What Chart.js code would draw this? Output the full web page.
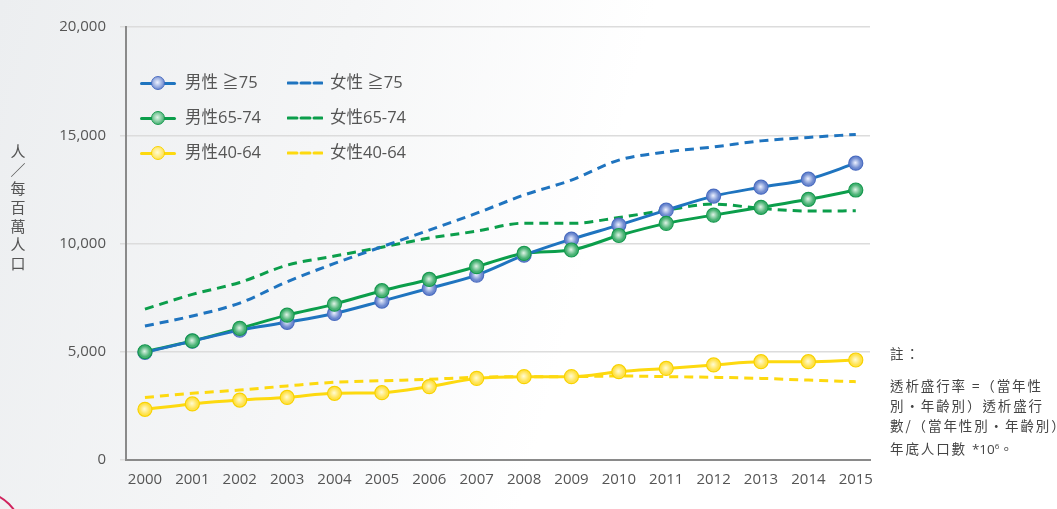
<!DOCTYPE html>
<html>
<head>
<meta charset="utf-8">
<script src="https://cdn.jsdelivr.net/npm/chart.js@4"></script>
<style>
  html, body { margin: 0; padding: 0; }
  body {
    width: 1057px; height: 509px; overflow: hidden; position: relative;
    background: linear-gradient(105deg, #eceef0 0%, #f5f6f7 30%, #ffffff 55%, #ffffff 100%);
    font-family: "Open Sans", "Noto Sans CJK TC", sans-serif;
    color: #555;
  }
  #wrap { position: absolute; left: 0; top: 0; width: 1057px; height: 509px; }
  .ytitle { position: absolute; left: 8px; top: 142px; width: 20px; font-size: 15px; color: #555;
            font-family: "Noto Sans CJK TC", sans-serif; text-align: center; }
  .ytitle span { display: block; height: 18.7px; line-height: 18.7px; }
  .legend { position: absolute; font-size: 16.5px; color: #555; font-family: "Open Sans", "Noto Sans CJK TC", sans-serif; }
  .legend .item { position: absolute; height: 20px; white-space: nowrap; }
  .legend .txt { position: absolute; top: -3px; line-height: 24px; }
  .mk { position: absolute; width: 14px; height: 14px; border-radius: 50%; top: 3px; left: 11px; box-sizing: border-box; }
  .note { position: absolute; left: 890px; top: 343px; width: 167px; overflow: hidden; font-size: 13.5px; color: #444;
          font-family: "Noto Sans CJK TC", sans-serif; white-space: nowrap; letter-spacing: 1.9px; line-height: 20px; }
  .note .n { letter-spacing: 0; font-family: "Open Sans", sans-serif; }
  .arc { position: absolute; left: -62px; top: 491px; width: 84px; height: 84px; border-radius: 50%;
         border: 2px solid #d0245e; box-sizing: border-box; }
</style>
</head>
<body>
<div id="wrap"><canvas id="chart" width="1057" height="509"></canvas></div>
<div class="ytitle"><span>人</span><span>／</span><span>每</span><span>百</span><span>萬</span><span>人</span><span>口</span></div>
<div class="legend" id="legend"></div>
<div class="note">註：<div style="height:12px"></div>透析盛行率 =（當年性<br>別‧年齡別）透析盛行<br>數/（當年性別‧年齡別）<br>年底人口數 <span class="n">*10<sup style="font-size:8px">6</sup></span>。</div>
<div class="arc"></div>
<script>
// data
const years = [2000, 2001, 2002, 2003, 2004, 2005, 2006, 2007, 2008, 2009, 2010, 2011, 2012, 2013, 2014, 2015];
const seriesNames = ['男性 ≧75', '女性 ≧75', '男性65-74', '女性65-74', '男性40-64', '女性40-64'];
const maleOver75 = [4970, 5490, 6000, 6360, 6770, 7340, 7930, 8540, 9460, 10200, 10850, 11540, 12190, 12600, 12970, 13710];
const femaleOver75 = [6190, 6650, 7250, 8230, 9080, 9850, 10620, 11400, 12240, 12930, 13850, 14230, 14460, 14740, 14900, 15040];
const male6574 = [5000, 5500, 6080, 6690, 7200, 7820, 8340, 8930, 9540, 9700, 10370, 10930, 11310, 11670, 12040, 12470];
const female6574 = [6970, 7650, 8200, 9000, 9420, 9830, 10250, 10570, 10940, 10930, 11200, 11540, 11820, 11620, 11500, 11510];
const male4064 = [2340, 2590, 2770, 2890, 3080, 3110, 3390, 3770, 3850, 3850, 4080, 4230, 4390, 4540, 4540, 4620];
const female4064 = [2890, 3080, 3230, 3420, 3590, 3660, 3730, 3820, 3850, 3850, 3880, 3850, 3820, 3770, 3690, 3620];
const yTicks = [0, 5000, 10000, 15000, 20000];

const blue = '#1f74bf', green = '#0b9e4b', yellow = '#fdd90f';
// marker colours: [center, outer, ring]
const markerCols = {
  blue: ['#eef2ff', '#6d89cf', '#4a6cc0'],
  green: ['#e0f3e7', '#46b172', '#17994f'],
  yellow: ['#fffbd6', '#ffe24d', '#f8d200']
};

function pts(arr) {
  return arr.map(function (v, i) { return { x: years[i], y: v }; });
}

function lineSet(label, arr, color, dashed, marker) {
  return {
    label: label,
    data: pts(arr),
    borderColor: color,
    borderWidth: 3,
    borderDash: dashed ? [9, 6] : [],
    pointRadius: 0,
    fill: false,
    cubicInterpolationMode: 'monotone',
    marker: marker
  };
}

// draw the round shaded markers on the solid lines
const markerPlugin = {
  id: 'markers',
  afterDatasetsDraw(chart) {
    const ctx = chart.ctx;
    chart.data.datasets.forEach(function (ds, di) {
      if (!ds.marker) return;
      const c = markerCols[ds.marker];
      chart.getDatasetMeta(di).data.forEach(function (el) {
        const g = ctx.createRadialGradient(el.x - 0.5, el.y - 0.5, 0, el.x, el.y, 7);
        g.addColorStop(0, c[0]);
        g.addColorStop(0.75, c[1]);
        g.addColorStop(1, c[1]);
        ctx.save();
        ctx.beginPath();
        ctx.arc(el.x, el.y, 7, 0, Math.PI * 2);
        ctx.fillStyle = g;
        ctx.fill();
        ctx.lineWidth = 1.2;
        ctx.strokeStyle = c[2];
        ctx.stroke();
        ctx.restore();
      });
    });
  }
};

new Chart(document.getElementById('chart'), {
  type: 'line',
  data: {
    datasets: [
      lineSet(seriesNames[0], maleOver75, blue, false, 'blue'),
      lineSet(seriesNames[2], male6574, green, false, 'green'),
      lineSet(seriesNames[4], male4064, yellow, false, 'yellow'),
      lineSet(seriesNames[1], femaleOver75, blue, true, null),
      lineSet(seriesNames[3], female6574, green, true, null),
      lineSet(seriesNames[5], female4064, yellow, true, null)
    ]
  },
  options: {
    responsive: false,
    animation: false,
    layout: { padding: { left: 0, right: 187, top: 27, bottom: 0 } },
    plugins: { legend: { display: false }, tooltip: { enabled: false } },
    scales: {
      x: {
        type: 'linear',
        min: 1999.6,
        max: 2015.3,
        afterBuildTicks(scale) {
          scale.ticks = years.map(function (y) { return { value: y }; });
        },
        afterFit(scale) { scale.height = 49; },
        grid: { color: 'transparent', drawTicks: false },
        border: { display: true, color: '#8a8a8a', width: 2 },
        ticks: {
          padding: 11,
          color: '#555',
          font: { size: 15, family: 'Open Sans' },
          callback: function (v) { return String(v); }
        }
      },
      y: {
        min: 0,
        max: 20000,
        afterBuildTicks(scale) {
          scale.ticks = yTicks.map(function (v) { return { value: v }; });
        },
        afterFit(scale) { scale.width = 126; },
        grid: { color: '#dcdcdc', lineWidth: 1.5, tickLength: 6 },
        border: { display: true, color: '#8a8a8a', width: 2 },
        ticks: {
          padding: 14,
          color: '#555',
          font: { size: 15, family: 'Open Sans' },
          callback: function (v) { return v.toLocaleString('en-US'); }
        }
      }
    }
  },
  plugins: [markerPlugin]
});

// legend laid out in two columns inside the plot, like the original
const legendRows = [
  [seriesNames[0], seriesNames[1], blue, 'blue'],
  [seriesNames[2], seriesNames[3], green, 'green'],
  [seriesNames[4], seriesNames[5], yellow, 'yellow']
];
const legend = document.getElementById('legend');
legendRows.forEach(function (r, i) {
  const top = 73 + i * 35;
  const c = markerCols[r[3]];
  const solid = document.createElement('div');
  solid.className = 'item';
  solid.style.left = '140px';
  solid.style.top = top + 'px';
  solid.innerHTML =
    '<div style="position:absolute;left:0;top:8.5px;width:36px;height:3px;background:' + r[2] + ';border-radius:2px"></div>' +
    '<div class="mk" style="background:radial-gradient(circle at 45% 45%,' + c[0] + ' 0%,' + c[1] + ' 75%);border:1.2px solid ' + c[2] + '"></div>' +
    '<span class="txt" style="left:45px">' + r[0] + '</span>';
  legend.appendChild(solid);
  const dash = document.createElement('div');
  dash.className = 'item';
  dash.style.left = '287px';
  dash.style.top = top + 'px';
  dash.innerHTML =
    '<svg width="36" height="20" style="position:absolute;left:0;top:0"><line x1="1" y1="10" x2="35" y2="10" stroke="' + r[2] + '" stroke-width="3" stroke-dasharray="9,4" stroke-linecap="round"/></svg>' +
    '<span class="txt" style="left:43px">' + r[1] + '</span>';
  legend.appendChild(dash);
});
</script>
</body>
</html>
